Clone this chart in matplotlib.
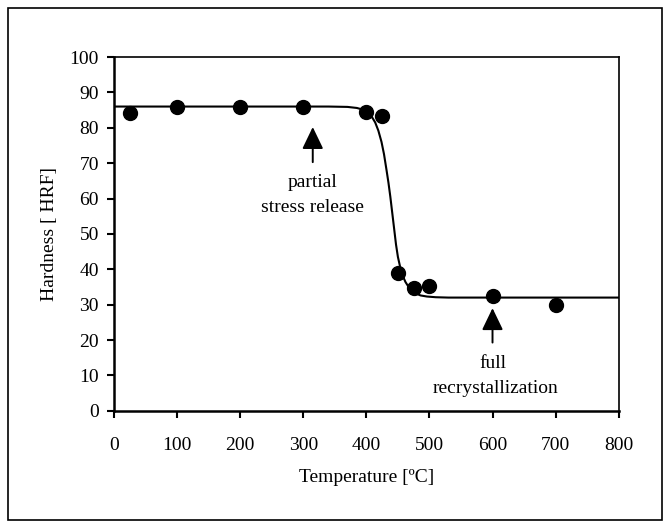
import numpy as np
import matplotlib
matplotlib.use("Agg")
import matplotlib.pyplot as plt
from matplotlib.patches import Rectangle

plt.rcParams["font.family"] = ["Liberation Serif", "DejaVu Serif"]

# measured hardness
temp = [25, 100, 200, 300, 400, 425, 450, 475, 500, 600, 700]
hardness = [84.3, 86, 86, 86, 84.5, 83.2, 39, 34.8, 35.2, 32.5, 30]

# fitted curve
fit_temp = [0, 340, 370, 385, 395, 403, 409, 414, 419, 424, 428, 432, 435, 438,
            441, 444, 447, 450, 454, 458, 462, 467, 472, 478, 486, 496, 510, 530, 800]
fit_hard = [86, 86, 85.9, 85.6, 85.1, 84.2, 83, 81.5, 79.2, 76, 72.5, 68, 64.5, 60.5,
            56, 51.5, 47, 43.5, 40.3, 38, 36.4, 35, 34, 33.2, 32.6, 32.3, 32.1, 32, 32]

fs = 14

fig = plt.figure(figsize=(6.71, 5.28), dpi=100)
ax = fig.add_axes([0.170, 0.222, 0.752, 0.670])

ax.plot(fit_temp, fit_hard, color="black", lw=1.5, zorder=2)
ax.plot(temp, hardness, "o", color="black", ms=10, zorder=3)

ax.set_xlim(0, 800)
ax.set_ylim(0, 100)
ax.set_xticks(range(0, 801, 100))
ax.set_yticks(range(0, 101, 10))
ax.tick_params(axis="x", direction="out", length=5, width=1.5, pad=14, labelsize=fs)
ax.tick_params(axis="y", direction="out", length=5, width=1.5, pad=6, labelsize=fs)
for s in ["left", "bottom"]:
    ax.spines[s].set_linewidth(1.8)
for s in ["top", "right"]:
    ax.spines[s].set_linewidth(1.2)

ax.set_xlabel("Temperature [ºC]", fontsize=fs, labelpad=11)
ax.set_ylabel("Hardness [ HRF]", fontsize=fs, labelpad=8)

arrow = dict(arrowstyle="-|>,head_width=0.65,head_length=1.35", color="black", lw=1.4)
ax.annotate("", xy=(315, 81), xytext=(315, 69.5), arrowprops=arrow)
ax.text(315, 64.5, "partial", ha="center", va="center", fontsize=fs)
ax.text(315, 57.5, "stress release", ha="center", va="center", fontsize=fs)

ax.annotate("", xy=(600, 29.8), xytext=(600, 18.5), arrowprops=arrow)
ax.text(600, 13.5, "full", ha="center", va="center", fontsize=fs)
ax.text(604, 6.3, "recrystallization", ha="center", va="center", fontsize=fs)

fig.patches.append(Rectangle((8 / 671, 1 - 520 / 528), 654 / 671, 512 / 528,
                             transform=fig.transFigure, fill=False,
                             edgecolor="black", lw=1.2))

fig.savefig("out.png", dpi=100)
